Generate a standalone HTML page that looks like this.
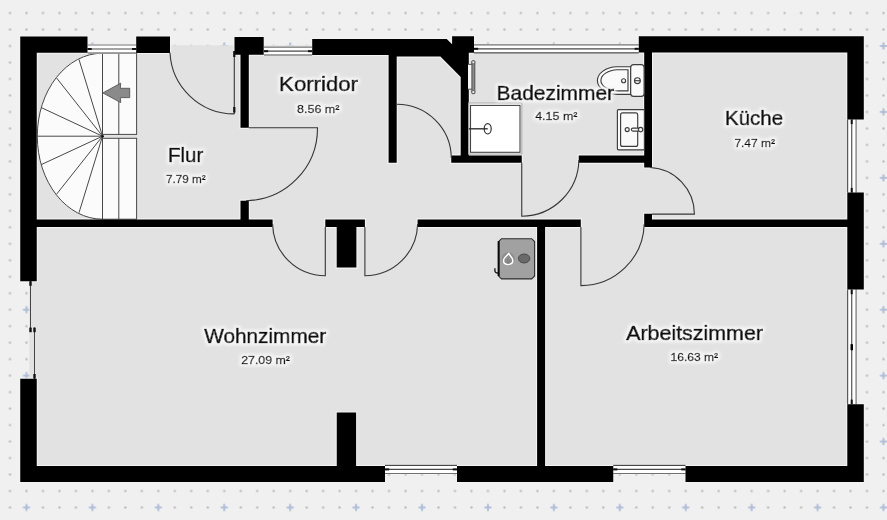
<!DOCTYPE html><html><head><meta charset="utf-8"><title>Grundriss</title>
<style>html,body{margin:0;padding:0;background:#f0f0f0;}body{width:887px;height:520px;overflow:hidden;font-family:"Liberation Sans",sans-serif;}svg{display:block;}text{font-family:"Liberation Sans",sans-serif;}</style></head><body>
<svg width="887" height="520" viewBox="0 0 887 520">
<defs>
<pattern id="dots" x="1.759" y="4.819" width="16.481" height="16.481" patternUnits="userSpaceOnUse"><circle cx="8.241" cy="8.241" r="1.2" fill="#bcbcbc"/></pattern>
<pattern id="plus" x="-6.482" y="13.058" width="65.924" height="65.924" patternUnits="userSpaceOnUse"><rect x="28.962" y="28.962" width="8" height="8" fill="#f0f0f0"/><path d="M29.462 32.962 h7 M32.962 29.462 v7" stroke="#b2bfd9" stroke-width="2.1" fill="none"/></pattern>
<filter id="glow" x="-20%" y="-40%" width="140%" height="180%"><feMorphology in="SourceAlpha" operator="dilate" radius="2" result="d"/><feGaussianBlur in="d" stdDeviation="1.5" result="b"/><feFlood flood-color="#f7f7f7" flood-opacity="1"/><feComposite in2="b" operator="in" result="g"/><feMerge><feMergeNode in="g"/><feMergeNode in="SourceGraphic"/></feMerge></filter>
</defs>
<rect width="887" height="520" fill="#f0f0f0"/>
<rect width="887" height="520" fill="url(#dots)"/>
<rect width="887" height="520" fill="url(#plus)"/>
<rect x="29.3" y="45.3" width="826.5" height="428.6" fill="#e2e2e2"/>
<path fill="none" stroke="#f3f3f3" stroke-width="2.2" stroke-linejoin="miter" d="M20.25 36.60H36.75V281.25H20.25ZM20.25 378.75H36.75V482.05H20.25ZM20.25 36.60H87.50V52.70H20.25ZM136.20 36.60H170.00V52.90H136.20ZM234.50 37.10H263.70V54.70H234.50ZM312.20 38.90H389.00V54.90H312.20ZM388.80 38.90H446.70V56.60H388.80ZM452.10 36.30H474.00V52.70H452.10ZM638.80 36.30H863.80V52.60H638.80ZM847.30 36.30H863.80V119.50H847.30ZM847.30 192.50H863.80V289.60H847.30ZM847.30 404.25H863.80V482.05H847.30ZM20.25 466.00H385.00V482.05H20.25ZM457.00 466.00H613.25V482.05H457.00ZM685.50 466.00H863.80V482.05H685.50ZM440.4 38.9L446.7 38.9L452.1 44.2L468.8 52L468.8 82L460.7 82L460.7 76.9L440.4 56.6ZM240.50 53.00H248.80V127.80H240.50ZM240.50 200.70H248.80V220.00H240.50ZM36.25 219.45H272.60V227.10H36.25ZM325.30 219.45H364.90V227.10H325.30ZM417.60 219.45H580.80V227.10H417.60ZM644.20 219.45H847.80V227.10H644.20ZM336.70 226.00H356.40V267.60H336.70ZM336.75 412.50H356.10V466.50H336.75ZM388.60 55.00H396.70V162.85H388.60ZM451.25 155.40H521.75V162.85H451.25ZM578.75 155.40H652.00V162.85H578.75ZM460.70 52.00H468.80V156.00H460.70ZM644.20 52.00H652.00V167.50H644.20ZM644.20 213.75H652.00V227.10H644.20ZM537.10 226.00H545.10V466.50H537.10Z"/>
<g stroke="#484848" stroke-width="1" fill="#fbfbfb">
<path d="M102.5 53.2 A65.2 83 0 0 0 102.5 219.2 Z"/>
<rect x="102.5" y="53.2" width="34.1" height="81.2"/>
<rect x="102.5" y="138.3" width="34.1" height="80.9"/>
<line x1="102.5" y1="136.2" x2="79.0" y2="59.5"/>
<line x1="102.5" y1="136.2" x2="56.5" y2="77.9"/>
<line x1="102.5" y1="136.2" x2="41.3" y2="107.6"/>
<line x1="102.5" y1="136.2" x2="37.3" y2="136.2"/>
<line x1="102.5" y1="136.2" x2="41.3" y2="164.6"/>
<line x1="102.5" y1="136.2" x2="56.5" y2="194.3"/>
<line x1="102.5" y1="136.2" x2="79.0" y2="212.7"/>
<line x1="118.8" y1="53.2" x2="118.8" y2="134.4"/><line x1="118.8" y1="138.3" x2="118.8" y2="219.2"/>
</g>
<circle cx="102.6" cy="136.2" r="1.3" fill="#111"/>
<path d="M102.9 92.9 L120.7 83.2 L120.3 88.3 L129.7 88.3 L129.7 97.6 L120.3 97.6 L120.7 102.6 Z" fill="#8a8a8a" stroke="#555" stroke-width="0.9" stroke-linejoin="miter"/>
<rect x="87.5" y="44.0" width="48.7" height="9.8" fill="#fff"/>
<line x1="87.5" y1="45.0" x2="136.2" y2="45.0" stroke="#707070" stroke-width="1.2"/>
<line x1="87.5" y1="49.0" x2="136.2" y2="49.0" stroke="#484848" stroke-width="1.2"/>
<line x1="87.5" y1="53.0" x2="136.2" y2="53.0" stroke="#484848" stroke-width="1.2"/>
<rect x="87.5" y="48.0" width="4.2" height="2" fill="#111"/>
<rect x="132.0" y="48.0" width="4.2" height="2" fill="#111"/>
<rect x="264.0" y="46.1" width="48.2" height="9.7" fill="#fff"/>
<line x1="264.0" y1="47.1" x2="312.2" y2="47.1" stroke="#707070" stroke-width="1.2"/>
<line x1="264.0" y1="51.2" x2="312.2" y2="51.2" stroke="#484848" stroke-width="1.2"/>
<line x1="264.0" y1="55.0" x2="312.2" y2="55.0" stroke="#484848" stroke-width="1.2"/>
<rect x="264.0" y="50.2" width="4.2" height="2" fill="#111"/>
<rect x="308.0" y="50.2" width="4.2" height="2" fill="#111"/>
<rect x="474.0" y="43.8" width="164.8" height="9.9" fill="#fff"/>
<line x1="474.0" y1="44.8" x2="638.8" y2="44.8" stroke="#707070" stroke-width="1.2"/>
<line x1="474.0" y1="48.8" x2="638.8" y2="48.8" stroke="#484848" stroke-width="1.2"/>
<line x1="474.0" y1="52.9" x2="638.8" y2="52.9" stroke="#484848" stroke-width="1.2"/>
<rect x="474.0" y="47.8" width="4.2" height="2" fill="#111"/>
<rect x="634.6" y="47.8" width="4.2" height="2" fill="#111"/>
<rect x="385.0" y="464.3" width="72.0" height="10.0" fill="#fff"/>
<line x1="385.0" y1="473.5" x2="457.0" y2="473.5" stroke="#707070" stroke-width="1.2"/>
<line x1="385.0" y1="469.4" x2="457.0" y2="469.4" stroke="#484848" stroke-width="1.2"/>
<line x1="385.0" y1="465.3" x2="457.0" y2="465.3" stroke="#484848" stroke-width="1.2"/>
<rect x="385.0" y="468.4" width="4.2" height="2" fill="#111"/>
<rect x="452.8" y="468.4" width="4.2" height="2" fill="#111"/>
<rect x="613.2" y="464.3" width="72.2" height="10.0" fill="#fff"/>
<line x1="613.2" y1="473.5" x2="685.5" y2="473.5" stroke="#707070" stroke-width="1.2"/>
<line x1="613.2" y1="469.4" x2="685.5" y2="469.4" stroke="#484848" stroke-width="1.2"/>
<line x1="613.2" y1="465.3" x2="685.5" y2="465.3" stroke="#484848" stroke-width="1.2"/>
<rect x="613.2" y="468.4" width="4.2" height="2" fill="#111"/>
<rect x="681.3" y="468.4" width="4.2" height="2" fill="#111"/>
<rect x="847.0" y="119.5" width="9.9" height="73.0" fill="#fff"/>
<line x1="847.6" y1="119.5" x2="847.6" y2="192.5" stroke="#5a5a5a" stroke-width="1.25"/>
<line x1="851.7" y1="119.5" x2="851.7" y2="192.5" stroke="#5a5a5a" stroke-width="1.25"/>
<line x1="856.1" y1="119.5" x2="856.1" y2="192.5" stroke="#747474" stroke-width="1.25"/>
<rect x="850.7" y="119.5" width="2" height="4.6" fill="#111"/>
<rect x="850.7" y="187.9" width="2" height="4.6" fill="#111"/>
<rect x="847.0" y="289.6" width="9.9" height="114.6" fill="#fff"/>
<line x1="847.6" y1="289.6" x2="847.6" y2="404.2" stroke="#5a5a5a" stroke-width="1.25"/>
<line x1="851.7" y1="289.6" x2="851.7" y2="404.2" stroke="#5a5a5a" stroke-width="1.25"/>
<line x1="856.1" y1="289.6" x2="856.1" y2="404.2" stroke="#747474" stroke-width="1.25"/>
<rect x="850.7" y="289.6" width="2" height="4.6" fill="#111"/>
<rect x="850.7" y="399.6" width="2" height="4.6" fill="#111"/>
<rect x="850.5" y="344.0" width="2.5" height="6.4" rx="0.8" fill="#000"/>
<line x1="30.5" y1="281" x2="30.5" y2="331.5" stroke="#333" stroke-width="0.9"/>
<line x1="34.5" y1="327.5" x2="34.5" y2="379" stroke="#333" stroke-width="0.9"/>
<rect x="29.3" y="281.2" width="2.4" height="4.6" fill="#111"/>
<rect x="29.3" y="327.6" width="2.4" height="4.6" fill="#111"/>
<rect x="33.3" y="327.6" width="2.4" height="4.6" fill="#111"/>
<rect x="33.3" y="374.0" width="2.4" height="4.6" fill="#111"/>
<path fill="#000" d="M20.25 36.60H36.75V281.25H20.25ZM20.25 378.75H36.75V482.05H20.25ZM20.25 36.60H87.50V52.70H20.25ZM136.20 36.60H170.00V52.90H136.20ZM234.50 37.10H263.70V54.70H234.50ZM312.20 38.90H389.00V54.90H312.20ZM388.80 38.90H446.70V56.60H388.80ZM452.10 36.30H474.00V52.70H452.10ZM638.80 36.30H863.80V52.60H638.80ZM847.30 36.30H863.80V119.50H847.30ZM847.30 192.50H863.80V289.60H847.30ZM847.30 404.25H863.80V482.05H847.30ZM20.25 466.00H385.00V482.05H20.25ZM457.00 466.00H613.25V482.05H457.00ZM685.50 466.00H863.80V482.05H685.50ZM440.4 38.9L446.7 38.9L452.1 44.2L468.8 52L468.8 82L460.7 82L460.7 76.9L440.4 56.6ZM240.50 53.00H248.80V127.80H240.50ZM240.50 200.70H248.80V220.00H240.50ZM36.25 219.45H272.60V227.10H36.25ZM325.30 219.45H364.90V227.10H325.30ZM417.60 219.45H580.80V227.10H417.60ZM644.20 219.45H847.80V227.10H644.20ZM336.70 226.00H356.40V267.60H336.70ZM336.75 412.50H356.10V466.50H336.75ZM388.60 55.00H396.70V162.85H388.60ZM451.25 155.40H521.75V162.85H451.25ZM578.75 155.40H652.00V162.85H578.75ZM460.70 52.00H468.80V156.00H460.70ZM644.20 52.00H652.00V167.50H644.20ZM644.20 213.75H652.00V227.10H644.20ZM537.10 226.00H545.10V466.50H537.10Z"/>
<g fill="none" stroke="#363636" stroke-width="1.1">
<path d="M170 52.5 A64.4 64.4 0 0 0 234.3 113.9"/>
<line x1="234.3" y1="52" x2="234.3" y2="113.9"/>
<path d="M248.7 127.8 L317.5 127.8 A72.6 72.6 0 0 1 246 200.7"/>
<path d="M396.7 104.3 A54.5 54.2 0 0 1 451.3 158"/>
<path d="M521.75 162.5 L521.75 216.2 A57.3 57.3 0 0 0 578.9 160"/>
<path d="M652 214.1 L694.4 214.1 A46.2 46.6 0 0 0 650 167.5"/>
<path d="M325.3 227 L325.3 275.7 A52.7 52.7 0 0 1 272.6 224"/>
<path d="M364.9 227 L364.9 275.7 A52.7 52.7 0 0 0 417.6 224"/>
<path d="M580.9 227 L580.9 285.6 A63.3 63.3 0 0 0 644.2 224"/>
</g>
<rect x="233.2" y="51" width="2.2" height="6" fill="#111"/><rect x="233.2" y="107" width="2.2" height="5.5" fill="#111"/>
<g fill="#fafafa" stroke="#3c3c3c" stroke-width="1.15">
<rect x="468.8" y="103" width="53" height="51" fill="#fff" stroke="#b4b4b4" stroke-width="1.2"/>
<rect x="470.5" y="105.4" width="49.5" height="46.9" fill="#fff" stroke="#444" stroke-width="1.1"/>
<ellipse cx="487.7" cy="128.8" rx="3.5" ry="5.2" fill="#fff" stroke="#333" stroke-width="1.2"/>
<line x1="468.8" y1="128.8" x2="487.7" y2="128.8" stroke="#333" stroke-width="1.4"/>
<rect x="468" y="64.4" width="4.2" height="24.8" fill="#f6f6f6" stroke="none"/>
<line x1="468" y1="64.4" x2="473" y2="64.4" stroke="#666" stroke-width="1.1"/><line x1="468" y1="89.2" x2="473" y2="89.2" stroke="#666" stroke-width="1.1"/>
<rect x="471.9" y="60.8" width="2.9" height="32.8" rx="0.8" fill="#8e8e8e" stroke="#444" stroke-width="0.9"/>
<rect x="471.9" y="60.8" width="2.9" height="3" rx="0.8" fill="#ececec" stroke="#4a4a4a" stroke-width="0.8"/><rect x="471.9" y="90.6" width="2.9" height="3" rx="0.8" fill="#ececec" stroke="#4a4a4a" stroke-width="0.8"/>
<path d="M630.7 66.7 L617 66.7 C605.5 67 597.4 73.5 597.4 80.6 C597.4 87.7 605.5 94.1 617 94.4 L630.7 94.4 Z"/>
<path d="M628 69.7 L617.5 69.7 C608 70 600.9 75 600.9 80.4 C600.9 85.8 608 90.6 617.5 90.9 L628 90.9 Z"/>
<rect x="630.7" y="64.6" width="13.4" height="31.8" rx="3"/>
<circle cx="623.6" cy="80.7" r="2"/>
<circle cx="637.4" cy="80.7" r="2.9"/><line x1="634.5" y1="80.7" x2="640.3" y2="80.7"/>
<rect x="617.4" y="109.6" width="27" height="40.2" rx="1"/>
<rect x="620.6" y="112.9" width="17.1" height="33.5" rx="2"/>
<circle cx="627.2" cy="129.6" r="2"/>
<rect x="631.4" y="128.1" width="8" height="3" rx="1.5"/>
<circle cx="640.6" cy="129.6" r="2.2"/>
</g>
<path d="M501.5 238.7 L531.7 238.7 L534.6 241.6 L534.6 276 L531.7 278.9 L501.5 278.9 L498.4 275.8 L498.4 241.8 Z" fill="#a1a1a1" stroke="#2e2e2e" stroke-width="1.1"/>
<line x1="498.7" y1="241.2" x2="498.7" y2="276" stroke="#0a0a0a" stroke-width="2"/>
<path d="M494.9 268.2 L494.9 270.8 Q495 273.2 498.2 273" fill="none" stroke="#111" stroke-width="1.3"/>
<circle cx="508.2" cy="258.9" r="6.6" fill="#8d8d8d"/>
<path d="M508.7 253.3 C509.6 255.6 512.9 257.6 512.9 260.6 C512.9 263 510.9 264.4 508.3 264.4 C505.6 264.4 503.5 262.8 503.5 260.4 C503.5 257.4 507.4 255.8 508.7 253.3 Z" fill="#8d8d8d" stroke="#fff" stroke-width="1.5" stroke-linejoin="round"/>
<path d="M508.4 258.6 C509.6 260 510.4 260.8 510.4 262 C510.4 263.2 509.5 263.8 508.4 263.8 C507.2 263.8 506.4 263.1 506.4 262 C506.4 260.8 507.4 260 508.4 258.6 Z" fill="#858585"/>
<ellipse cx="524.1" cy="258.5" rx="5.7" ry="4.5" fill="#6a6a6a" stroke="#444" stroke-width="0.9"/>
<text x="168.0" y="161.8" font-size="19.3" textLength="35.2" lengthAdjust="spacingAndGlyphs" fill="#0c0c0c" stroke="#0c0c0c" stroke-width="0.70" filter="url(#glow)">Flur</text>
<text x="166.0" y="183.2" font-size="11.3" textLength="39.7" lengthAdjust="spacingAndGlyphs" fill="#0c0c0c" stroke="#0c0c0c" stroke-width="0.45" filter="url(#glow)">7.79 m²</text>
<text x="279.1" y="90.8" font-size="19.3" textLength="78.9" lengthAdjust="spacingAndGlyphs" fill="#0c0c0c" stroke="#0c0c0c" stroke-width="0.70" filter="url(#glow)">Korridor</text>
<text x="297.0" y="112.5" font-size="11.3" textLength="42.5" lengthAdjust="spacingAndGlyphs" fill="#0c0c0c" stroke="#0c0c0c" stroke-width="0.45" filter="url(#glow)">8.56 m²</text>
<text x="496.6" y="99.6" font-size="19.3" textLength="117.4" lengthAdjust="spacingAndGlyphs" fill="#0c0c0c" stroke="#0c0c0c" stroke-width="0.70" filter="url(#glow)">Badezimmer</text>
<text x="535.2" y="120.4" font-size="11.3" textLength="42.3" lengthAdjust="spacingAndGlyphs" fill="#0c0c0c" stroke="#0c0c0c" stroke-width="0.45" filter="url(#glow)">4.15 m²</text>
<text x="725.1" y="125.2" font-size="19.3" textLength="58.0" lengthAdjust="spacingAndGlyphs" fill="#0c0c0c" stroke="#0c0c0c" stroke-width="0.70" filter="url(#glow)">Küche</text>
<text x="734.4" y="146.7" font-size="11.3" textLength="40.6" lengthAdjust="spacingAndGlyphs" fill="#0c0c0c" stroke="#0c0c0c" stroke-width="0.45" filter="url(#glow)">7.47 m²</text>
<text x="204.2" y="342.5" font-size="19.3" textLength="122.0" lengthAdjust="spacingAndGlyphs" fill="#0c0c0c" stroke="#0c0c0c" stroke-width="0.70" filter="url(#glow)">Wohnzimmer</text>
<text x="241.2" y="363.8" font-size="11.3" textLength="48.8" lengthAdjust="spacingAndGlyphs" fill="#0c0c0c" stroke="#0c0c0c" stroke-width="0.45" filter="url(#glow)">27.09 m²</text>
<text x="626.2" y="340.0" font-size="19.3" textLength="136.8" lengthAdjust="spacingAndGlyphs" fill="#0c0c0c" stroke="#0c0c0c" stroke-width="0.70" filter="url(#glow)">Arbeitszimmer</text>
<text x="670.5" y="360.8" font-size="11.3" textLength="47.5" lengthAdjust="spacingAndGlyphs" fill="#0c0c0c" stroke="#0c0c0c" stroke-width="0.45" filter="url(#glow)">16.63 m²</text>
</svg></body></html>
